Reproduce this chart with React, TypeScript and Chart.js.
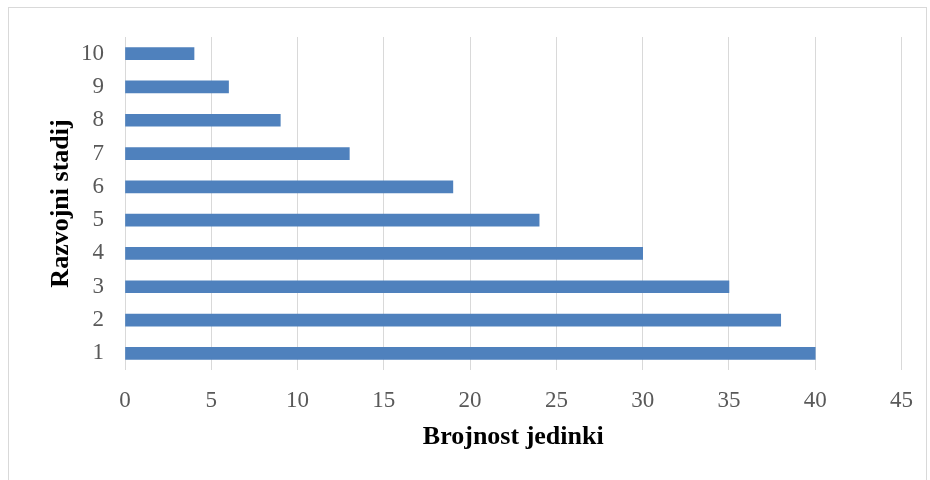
import React, { useEffect, useRef } from "react";
import { Chart, registerables } from "chart.js";

Chart.register(...registerables);

const categories = ["1", "2", "3", "4", "5", "6", "7", "8", "9", "10"];
const values = [40, 38, 35, 30, 24, 19, 13, 9, 6, 4];
const xTitle = "Brojnost jedinki";
const yTitle = "Razvojni stadij";

const FONT = "'Liberation Serif', 'Times New Roman', serif";

export default function App() {
  const ref = useRef<HTMLCanvasElement | null>(null);

  useEffect(() => {
    if (!ref.current) return;
    const chart = new Chart(ref.current, {
      type: "bar",
      data: {
        labels: categories,
        datasets: [
          {
            data: values,
            backgroundColor: "#4F81BD",
            barThickness: 12,
          },
        ],
      },
      options: {
        indexAxis: "y",
        animation: false,
        responsive: false,
        maintainAspectRatio: false,
        layout: { padding: { left: 42, top: 37, right: 26, bottom: 23 } },
        plugins: { legend: { display: false }, tooltip: { enabled: false } },
        scales: {
          x: {
            min: 0,
            max: 45,
            ticks: {
              stepSize: 5,
              color: "#595959",
              font: { family: FONT, size: 23 },
              padding: 17,
              maxRotation: 0,
            },
            grid: { color: "#d9d9d9", lineWidth: 1, drawTicks: false },
            border: { display: false },
            title: {
              display: true,
              text: xTitle,
              color: "#000",
              font: { family: FONT, size: 26, weight: "bold" },
              padding: { top: 4, bottom: 4 },
            },
            afterFit: (s: any) => {
              s.height = 87;
            },
          },
          y: {
            reverse: true,
            ticks: {
              color: "#595959",
              font: { family: FONT, size: 23 },
              padding: 21,
            },
            grid: { display: false, drawTicks: false },
            border: { display: false },
            title: {
              display: true,
              text: yTitle,
              color: "#000",
              font: { family: FONT, size: 26, weight: "bold" },
              padding: { top: 4, bottom: 4 },
            },
            afterFit: (s: any) => {
              s.width = 83;
            },
          },
        },
      },
    });
    return () => chart.destroy();
  }, []);

  return (
    <div style={{ position: "absolute", left: 0, top: 0, width: 930, height: 480 }}>
      <div
        style={{
          position: "absolute",
          left: 8,
          top: 7,
          width: 919,
          height: 480,
          border: "1px solid #d9d9d9",
          boxSizing: "border-box",
        }}
      />
      <canvas ref={ref} width={930} height={480} style={{ position: "absolute", left: 0, top: 0 }} />
    </div>
  );
}
